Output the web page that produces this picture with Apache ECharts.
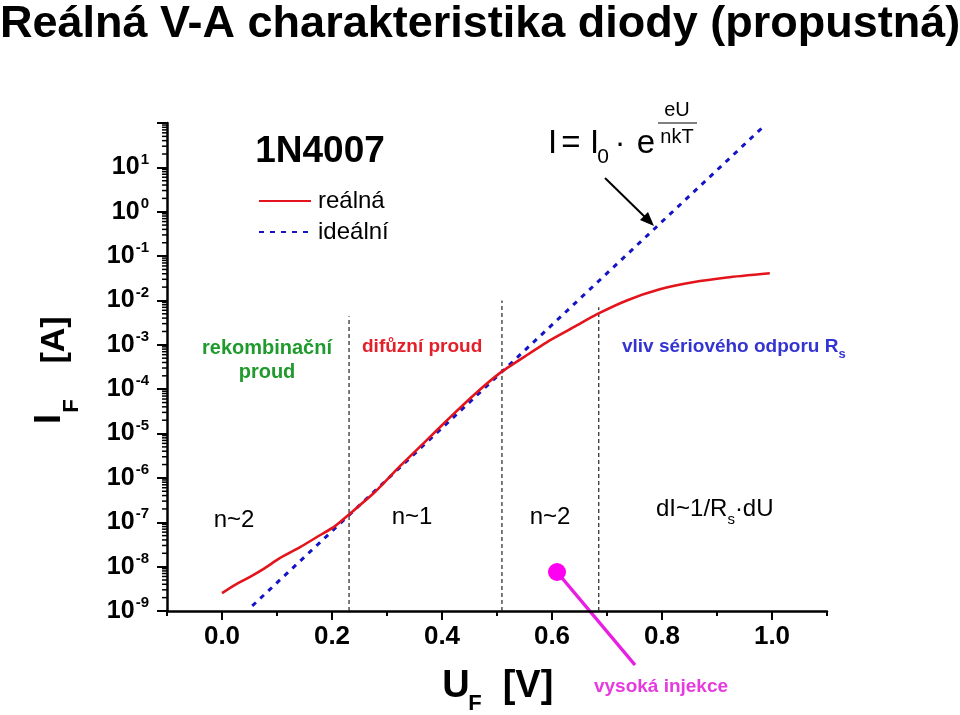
<!DOCTYPE html>
<html>
<head>
<meta charset="utf-8">
<script src="https://cdn.jsdelivr.net/npm/echarts@6/dist/echarts.min.js"></script>
<style>html,body{margin:0;padding:0;background:#fff}#c{width:960px;height:715px}</style>
</head>
<body>
<div id="c"></div>
<script>
// ---- data ----
const realU = [0, 0.024, 0.051, 0.078, 0.105, 0.142, 0.178, 0.205, 0.231, 0.278, 0.324, 0.369, 0.415, 0.460, 0.505, 0.551, 0.596, 0.642, 0.682, 0.736, 0.796, 0.856, 0.918, 0.996];
const realI = [2.54e-9, 3.9e-9, 5.9e-9, 9.3e-9, 1.55e-8, 2.75e-8, 5.1e-8, 8.1e-8, 1.5e-7, 4.8e-7, 1.86e-6, 6.5e-6, 2.34e-5, 7.8e-5, 2.3e-4, 5.5e-4, 1.26e-3, 2.6e-3, 4.9e-3, 1.0e-2, 1.78e-2, 2.57e-2, 3.3e-2, 4.1e-2];
const idealU = [0.055, 0.987];
const idealI = [1.3e-9, 89];
const regionU = [0.231, 0.509, 0.685];
const regionTopI = [4.4e-3, 1.0e-2, 7.0e-3];
const xTickLabels = [0, 0.2, 0.4, 0.6, 0.8, 1.0];
const yDecades = [-9, -8, -7, -6, -5, -4, -3, -2, -1, 0, 1];
const yMinorMult = [2, 3, 4, 5, 6, 7, 8, 9];
const seriesNames = ['reálná', 'ideální'];

const X_MIN = -0.1, X_MAX = 1.1, Y_MIN = 1e-9, Y_MAX = 100;
const FONT = "'Liberation Sans', Arial, sans-serif";

const minorY = [];
yDecades.forEach(d => yMinorMult.forEach(m => minorY.push([X_MIN, m * Math.pow(10, d)])));

const chart = echarts.init(document.getElementById('c'), null, {renderer: 'canvas'});

const series = [
  {
    name: seriesNames[0], type: 'line', symbol: 'none', z: 5, smooth: 0.2,
    data: realU.map((u, i) => [u, realI[i]]),
    lineStyle: {color: '#e3141b', width: 2.6}, itemStyle: {color: '#e3141b'}
  },
  {
    name: seriesNames[1], type: 'line', symbol: 'none', z: 4,
    data: idealU.map((u, i) => [u, idealI[i]]),
    lineStyle: {color: '#1414c4', width: 3, type: [5, 6]}, itemStyle: {color: '#1414c4'}
  },
  {
    type: 'custom', name: 'minorY', silent: true, clip: false, z: 3,
    data: minorY,
    renderItem: function (params, api) {
      const p = api.coord([api.value(0), api.value(1)]);
      return {type: 'line', shape: {x1: p[0] - 5, y1: p[1], x2: p[0], y2: p[1]},
        style: {stroke: '#000', lineWidth: 1.5}};
    }
  }
];
regionU.forEach((u, i) => {
  series.push({
    type: 'line', symbol: 'none', silent: true, z: 2,
    data: [[u, Y_MIN], [u, regionTopI[i]]],
    lineStyle: {color: '#222', width: 1.2, type: [4, 3]}
  });
});

const option = {
  animation: false,
  backgroundColor: '#fff',
  grid: {left: 167, top: 123, right: 133, bottom: 104, containLabel: false},
  legend: {
    data: seriesNames, orient: 'vertical', left: 258, top: 189,
    itemWidth: 52, itemHeight: 14, itemGap: 7, padding: 0,
    itemStyle: {opacity: 0},
    textStyle: {fontSize: 24, color: '#000', fontFamily: FONT, padding: [0, 0, 0, 2]}
  },
  xAxis: [
    {
      type: 'value', min: X_MIN, max: X_MAX, position: 'bottom',
      splitLine: {show: false},
      axisLine: {show: true, onZero: false, lineStyle: {color: '#000', width: 2.5}},
      axisTick: {show: true, length: 9, lineStyle: {color: '#000', width: 2}, customValues: xTickLabels},
      axisLabel: {show: true, customValues: xTickLabels, margin: 13, color: '#000',
        fontSize: 26, fontWeight: 'bold', fontFamily: FONT,
        formatter: v => v.toFixed(1)}
    },
    {
      type: 'value', min: X_MIN, max: X_MAX, interval: 0.1, position: 'bottom',
      splitLine: {show: false},
      axisLine: {show: false, onZero: false},
      axisTick: {show: true, length: 5, lineStyle: {color: '#000', width: 2}},
      axisLabel: {show: false}
    }
  ],
  yAxis: {
    type: 'log', logBase: 10, min: Y_MIN, max: Y_MAX, interval: 1,
    splitLine: {show: false},
    axisLine: {show: true, onZero: false, lineStyle: {color: '#000', width: 2.5}},
    axisTick: {show: true, length: 10, lineStyle: {color: '#000', width: 2}},
    axisLabel: {
      margin: 18, color: '#000', fontFamily: FONT,
      formatter: function (v) {
        const e = Math.round(Math.log10(v));
        if (e > 1) return '';
        return '{b|10}{e|' + (e < 0 ? '-' + (-e) : e) + '}';
      },
      rich: {
        b: {fontSize: 25, fontWeight: 'bold', fontFamily: FONT, color: '#000', lineHeight: 25, verticalAlign: 'bottom'},
        e: {fontSize: 15, fontWeight: 'bold', fontFamily: FONT, color: '#000', lineHeight: 15, padding: [0, 0, 13, 1], verticalAlign: 'bottom'}
      }
    }
  },
  series: series,
  graphic: [
    // title
    {type: 'text', x: 0, y: 2, style: {text: 'Reálná V-A charakteristika diody (propustná)', font: 'bold 45px ' + FONT, fill: '#000', align: 'left', verticalAlign: 'top'}},
    // 1N4007
    {type: 'text', x: 320, y: 152, style: {text: '1N4007', font: 'bold 37px ' + FONT, fill: '#000', align: 'center', verticalAlign: 'middle'}},
    // y axis name (rotated)
    {type: 'text', x: 50, y: 419, rotation: Math.PI / 2, style: {text: 'I', font: 'bold 36px ' + FONT, fill: '#000', align: 'center', verticalAlign: 'middle'}},
    {type: 'text', x: 72, y: 406, rotation: Math.PI / 2, style: {text: 'F', font: 'bold 22px ' + FONT, fill: '#000', align: 'center', verticalAlign: 'middle'}},
    {type: 'text', x: 55, y: 340, rotation: Math.PI / 2, style: {text: '[A]', font: 'bold 34px ' + FONT, fill: '#000', align: 'center', verticalAlign: 'middle'}},
    // x axis name
    {type: 'text', x: 456, y: 687, style: {text: 'U', font: 'bold 38px ' + FONT, fill: '#000', align: 'center', verticalAlign: 'middle'}},
    {type: 'text', x: 475, y: 704, style: {text: 'F', font: 'bold 22px ' + FONT, fill: '#000', align: 'center', verticalAlign: 'middle'}},
    {type: 'text', x: 528, y: 687, style: {text: '[V]', font: 'bold 38px ' + FONT, fill: '#000', align: 'center', verticalAlign: 'middle'}},
    // region labels
    {type: 'text', x: 267, y: 360, style: {text: 'rekombinační\nproud', font: 'bold 20px ' + FONT, lineHeight: 24, fill: '#1f9a2c', align: 'center', verticalAlign: 'middle'}},
    {type: 'text', x: 362, y: 347, style: {text: 'difůzní proud', font: 'bold 19px ' + FONT, fill: '#e3202a', align: 'left', verticalAlign: 'middle'}},
    {type: 'text', x: 622, y: 350, style: {
      text: '{a|vliv sériového odporu R}{s|s}', align: 'left', verticalAlign: 'middle',
      rich: {
        a: {font: 'bold 19px ' + FONT, fill: '#3434d2', lineHeight: 22, padding: [0, 0, 5, 0], verticalAlign: 'bottom'},
        s: {font: 'bold 13px ' + FONT, fill: '#3434d2', lineHeight: 16, verticalAlign: 'bottom'}
      }}},
    {type: 'text', x: 234, y: 520, style: {text: 'n~2', font: '24px ' + FONT, fill: '#000', align: 'center', verticalAlign: 'middle'}},
    {type: 'text', x: 412, y: 517, style: {text: 'n~1', font: '24px ' + FONT, fill: '#000', align: 'center', verticalAlign: 'middle'}},
    {type: 'text', x: 550, y: 517, style: {text: 'n~2', font: '24px ' + FONT, fill: '#000', align: 'center', verticalAlign: 'middle'}},
    {type: 'text', x: 656, y: 514, style: {
      text: '{a|dI~1/R}{s|s}{a|·dU}', align: 'left', verticalAlign: 'middle',
      rich: {
        a: {font: '24px ' + FONT, fill: '#000', lineHeight: 26, padding: [0, 0, 6, 0], verticalAlign: 'bottom'},
        s: {font: '15px ' + FONT, fill: '#000', lineHeight: 18, verticalAlign: 'bottom'}
      }}},
    // formula
    {type: 'text', x: 548, y: 144, style: {text: 'I', font: '33px ' + FONT, fill: '#000', align: 'left', verticalAlign: 'middle'}},
    {type: 'text', x: 571, y: 144, style: {text: '=', font: '33px ' + FONT, fill: '#000', align: 'center', verticalAlign: 'middle'}},
    {type: 'text', x: 590, y: 144, style: {text: 'I', font: '33px ' + FONT, fill: '#000', align: 'left', verticalAlign: 'middle'}},
    {type: 'text', x: 603, y: 157, style: {text: '0', font: '21px ' + FONT, fill: '#000', align: 'center', verticalAlign: 'middle'}},
    {type: 'text', x: 620, y: 144, style: {text: '·', font: '32px ' + FONT, fill: '#000', align: 'center', verticalAlign: 'middle'}},
    {type: 'text', x: 646, y: 144, style: {text: 'e', font: '33px ' + FONT, fill: '#000', align: 'center', verticalAlign: 'middle'}},
    {type: 'text', x: 677, y: 110, style: {text: 'eU', font: '20px ' + FONT, fill: '#000', align: 'center', verticalAlign: 'middle'}},
    {type: 'line', shape: {x1: 658, y1: 123, x2: 697, y2: 123}, style: {stroke: '#000', lineWidth: 1}},
    {type: 'text', x: 677, y: 137, style: {text: 'nkT', font: '20px ' + FONT, fill: '#000', align: 'center', verticalAlign: 'middle'}},
    // arrow
    {type: 'line', shape: {x1: 605, y1: 178, x2: 647, y2: 219}, style: {stroke: '#000', lineWidth: 2}},
    {type: 'polygon', shape: {points: [[654, 226], [640, 220], [648, 212]]}, style: {fill: '#000'}},
    // high injection marker
    {type: 'line', shape: {x1: 557, y1: 572, x2: 635, y2: 665}, style: {stroke: '#e81ee0', lineWidth: 3.5}},
    {type: 'circle', shape: {cx: 557, cy: 572, r: 9}, style: {fill: '#ff00f0'}},
    {type: 'text', x: 661, y: 687, style: {text: 'vysoká injekce', font: 'bold 19px ' + FONT, fill: '#e63adf', align: 'center', verticalAlign: 'middle'}}
  ]
};
chart.setOption(option);
</script>
</body>
</html>
